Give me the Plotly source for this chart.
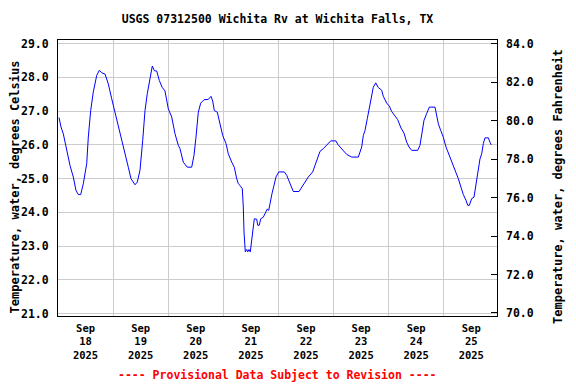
import datetime as dt
import plotly.graph_objects as go

# Hours since 2025-09-18 00:00 and water temperature (deg C)
hours = [0.44, 1.31, 2.31, 3.79, 5.23, 6.66, 7.84, 8.84, 9.89, 11.02, 12.5, 13.2, 14.24, 15.37,
         16.86, 17.99, 19.03, 20.47, 21.91, 23.39, 24.83, 26.26, 27.74, 29.18, 30.62, 31.79,
         32.8, 33.54, 34.54, 35.71, 36.89, 37.89, 38.89, 40.07, 41.07, 41.94, 42.99, 44.12,
         45.43, 46.6, 48.04, 49.52, 50.96, 52.4, 53.14, 54.57, 56.31, 58.23, 59.23, 60.1,
         61.11, 62.15, 63.59, 65.46, 66.64, 67.38, 68.08, 69.38, 70.56, 71.73, 73.17, 74.17,
         75.65, 76.79, 77.83, 78.53, 79.27, 80.27, 80.71, 81.01, 81.58, 82.19, 82.62, 83.19,
         83.75, 84.36, 85.06, 85.5, 86.54, 86.98, 87.67, 88.28, 89.42, 90.46, 91.16, 91.77,
         92.33, 93.21, 94.08, 94.95, 96.12, 97.43, 98.56, 99.61, 100.48, 101.35, 102.48,
         104.97, 106.14, 107.58, 109.02, 110.93, 111.93, 112.94, 114.11, 115.55, 117.03,
         118.77, 121.08, 121.82, 122.82, 124.26, 125.74, 127.92, 130.79, 131.53, 132.27,
         132.97, 133.71, 134.71, 135.58, 136.63, 137.33, 138.37, 139.5, 140.98, 141.68,
         143.16, 144.3, 145.34, 146.78, 147.95, 149.39, 150.7, 151.87, 152.87, 154.05,
         156.66, 157.67, 158.41, 159.41, 160.58, 161.72, 164.2, 164.94, 165.64, 166.68,
         167.81, 168.99, 170.3, 171.73, 173.21, 174.35, 175.39, 176.52, 177.7, 178.44,
         179.14, 180.18, 181.18, 181.92, 182.8, 183.8, 184.54, 185.24, 185.98, 187.41,
         188.15, 188.72]
temps_c = [26.81, 26.53, 26.33, 25.84, 25.39, 25.05, 24.65, 24.53, 24.53, 24.85, 25.44, 26.23,
           27.02, 27.57, 28.06, 28.21, 28.14, 28.1, 27.81, 27.37, 26.97, 26.63, 26.13, 25.74,
           25.34, 25.0, 24.9, 24.82, 24.9, 25.25, 26.13, 27.02, 27.52, 28.01, 28.34, 28.2,
           28.19, 27.91, 27.7, 27.6, 27.07, 26.83, 26.33, 25.99, 25.89, 25.49, 25.34, 25.34,
           25.69, 26.23, 26.97, 27.24, 27.34, 27.35, 27.44, 27.3, 27.02, 26.97, 26.63, 26.28,
           26.04, 25.74, 25.49, 25.34, 25.0, 24.85, 24.8, 24.7, 24.16, 23.42, 22.83, 22.9,
           22.83, 22.9, 22.83, 23.17, 23.67, 23.81, 23.8, 23.62, 23.62, 23.81, 23.86, 24.01,
           24.1, 24.06, 24.31, 24.56, 24.8, 25.05, 25.2, 25.2, 25.2, 25.1, 24.95, 24.77, 24.62,
           24.62, 24.75, 24.9, 25.05, 25.2, 25.39, 25.59, 25.81, 25.89, 26.01, 26.12, 26.12,
           26.02, 25.94, 25.84, 25.72, 25.64, 25.64, 25.79, 25.94, 26.28, 26.43, 26.78, 27.12,
           27.42, 27.71, 27.84, 27.7, 27.62, 27.44, 27.24, 27.15, 26.99, 26.86, 26.75, 26.5,
           26.35, 26.08, 25.94, 25.84, 25.84, 25.99, 26.33, 26.73, 26.93, 27.12, 27.12, 26.83,
           26.63, 26.43, 26.23, 25.94, 25.69, 25.44, 25.2, 25.0, 24.75, 24.53, 24.36, 24.21,
           24.21, 24.41, 24.45, 24.8, 25.25, 25.59, 25.74, 26.04, 26.21, 26.21, 26.08, 26.0]

left_ticks = [21, 22, 23, 24, 25, 26, 27, 28, 29]
right_ticks = [70, 72, 74, 76, 78, 80, 82, 84]

title_text = "USGS 07312500 Wichita Rv at Wichita Falls, TX"
left_title = "Temperature, water, degrees Celsius"
right_title = "Temperature, water, degrees Fahrenheit"
footer_text = "---- Provisional Data Subject to Revision ----"

start = dt.datetime(2025, 9, 18)
times = [start + dt.timedelta(hours=h) for h in hours]
temps_f = [c * 1.8 + 32 for c in temps_c]

FONT = "DejaVu Sans Mono"
# page body has an 8px default margin, so the figure is 8px smaller
W, H = 568, 376
ML, MR, MT, MB = 50, 79, 31.5, 68.3
plot_h = H - MT - MB
plot_w = W - ML - MR


def px_to_paper_x(px):
    return (px - ML) / plot_w


def px_to_paper_y(py):
    return (H - MB - py) / plot_h


fig = go.Figure()
fig.add_trace(go.Scatter(x=times, y=temps_c, mode="lines",
                         line=dict(color="#0000ff", width=1), showlegend=False))
fig.add_trace(go.Scatter(x=times, y=temps_f, mode="lines", yaxis="y2",
                         line=dict(color="rgba(0,0,0,0)", width=0), showlegend=False,
                         hoverinfo="skip"))

x_end = start + dt.timedelta(hours=191.2)

title_font = dict(family=FONT, size=12, color="black", weight="bold")

fig.update_layout(
    width=W, height=H,
    margin=dict(l=ML, r=MR, t=MT, b=MB, autoexpand=False),
    paper_bgcolor="white", plot_bgcolor="white",
    font=dict(family=FONT, size=11, color="black", weight="bold"),
    title=dict(text=title_text, x=0.5, xref="paper", y=1 - 11 / H, yref="container",
               yanchor="middle",
               font=dict(family=FONT, size=11.5, color="black", weight="bold")),
    xaxis=dict(type="date", range=[start, x_end], automargin=False,
               tick0=start, dtick=86400000, ticklabelmode="period",
               tickformat="%b<br>%d<br>%Y",
               showgrid=True, gridcolor="#cccccc", gridwidth=1,
               ticks="", showline=True, linecolor="black", linewidth=1, mirror=True,
               ticklabelstandoff=2,
               tickfont=dict(family=FONT, size=10.5, weight="bold")),
    yaxis=dict(range=[20.93, 29.11], tickvals=left_ticks, tickformat=".1f",
               automargin=False,
               showgrid=True, gridcolor="#cccccc", gridwidth=1, zeroline=False,
               ticks="", showline=True, linecolor="black", linewidth=1, mirror=True,
               ticklabelstandoff=6,
               tickfont=dict(family=FONT, size=11.5, weight="bold")),
    yaxis2=dict(overlaying="y", side="right", range=[69.84, 84.2], tickvals=right_ticks,
                automargin=False,
                tickformat=".1f", showgrid=False, zeroline=False,
                ticks="inside", ticklen=6, tickcolor="black",
                ticklabelstandoff=8,
                tickfont=dict(family=FONT, size=11.5, weight="bold")),
    annotations=[
        dict(text=left_title, x=px_to_paper_x(6.5), y=px_to_paper_y(178.5),
             xref="paper", yref="paper", xanchor="center", yanchor="middle",
             textangle=-90, showarrow=False, font=title_font),
        dict(text=right_title, x=px_to_paper_x(550), y=px_to_paper_y(178.5),
             xref="paper", yref="paper", xanchor="center", yanchor="middle",
             textangle=-90, showarrow=False, font=title_font),
        dict(text=footer_text, x=0.5, xref="paper",
             y=px_to_paper_y(367), yref="paper", yanchor="middle",
             showarrow=False, font=dict(family=FONT, size=11.5, color="#ff0000",
                                        weight="bold")),
    ],
)

fig.write_html("out.html")
